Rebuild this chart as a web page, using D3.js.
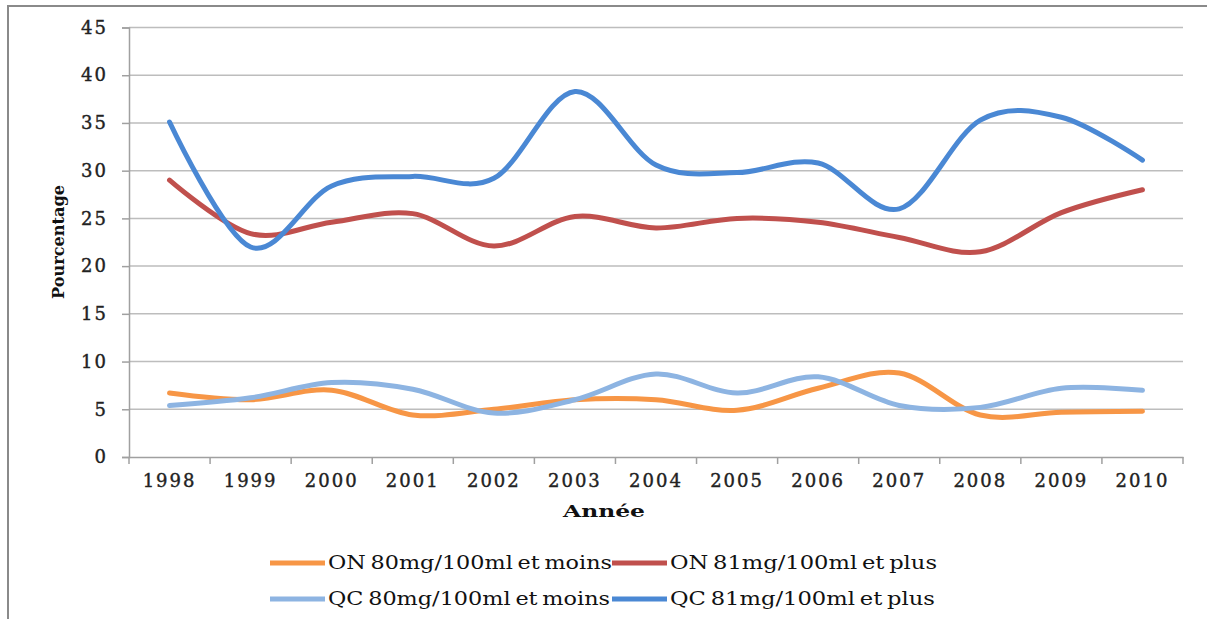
<!DOCTYPE html>
<html><head><meta charset="utf-8">
<script src="https://cdn.jsdelivr.net/npm/d3@7"></script>
<style>body{margin:0;background:#fff}svg{display:block}</style>
</head><body>
<script>
const years = ["1998","1999","2000","2001","2002","2003","2004","2005","2006","2007","2008","2009","2010"];
const onMoins = [6.7,6.0,7.0,4.4,5.0,6.0,6.0,4.9,7.2,8.8,4.4,4.7,4.8];
const onPlus  = [29.0,23.4,24.6,25.5,22.1,25.2,24.0,25.0,24.6,23.0,21.5,25.6,28.0];
const qcMoins = [5.4,6.2,7.8,7.1,4.6,6.0,8.7,6.7,8.4,5.4,5.2,7.2,7.0];
const qcPlus  = [35.1,22.0,28.4,29.4,29.2,38.3,30.6,29.8,30.8,26.0,35.3,35.6,31.1];
const yTicks = [0,5,10,15,20,25,30,35,40,45];
const seriesNames = ["ON 80mg/100ml et moins","ON 81mg/100ml et plus","QC 80mg/100ml et moins","QC 81mg/100ml et plus"];
const seriesColors = ["#F79646","#C0504D","#8DB4E2","#4A88D4"];
const seriesData = [onMoins,onPlus,qcMoins,qcPlus];

const W=1207,H=619;
const svg=d3.select("body").append("svg").attr("width",W).attr("height",H);
svg.append("rect").attr("width",W).attr("height",H).attr("fill","#fff");
// frame
svg.append("path").attr("d",`M8,${H} L8,6 L${W},6`).attr("fill","none").attr("stroke","#8a8a8a").attr("stroke-width",2);

const L=129,R=1183,T=27.5,B=457;
const xBand=d3.scaleBand().domain(years).range([L,R]);
const xP=d3.scalePoint().domain(years).range([L,R]).padding(0.5);
const y=d3.scaleLinear().domain([0,45]).range([B,T]);

// gridlines
svg.append("g").selectAll("line").data(yTicks.filter(d=>d>0)).join("line")
  .attr("x1",L).attr("x2",R).attr("y1",d=>y(d)).attr("y2",d=>y(d))
  .attr("stroke","#bdbdbd").attr("stroke-width",1.5);

// y axis
const ya=svg.append("g").attr("transform",`translate(${L},0)`)
  .call(d3.axisLeft(y).tickValues(yTicks).tickSize(7).tickPadding(14));
ya.select(".domain").attr("stroke","#a0a0a0").attr("stroke-width",1.5);
ya.selectAll(".tick line").attr("stroke","#a0a0a0").attr("stroke-width",1.5);
ya.selectAll("text").attr("font-family","DejaVu Serif").attr("font-size",18).attr("letter-spacing","2px")
  .attr("fill","#222").attr("stroke","#222").attr("stroke-width",0.4);

// x axis
const xa=svg.append("g").attr("transform",`translate(0,${B})`)
  .call(d3.axisBottom(xBand).tickSize(0).tickPadding(17));
xa.select(".domain").attr("stroke","#a0a0a0").attr("stroke-width",1.5);
xa.selectAll("text").attr("font-family","DejaVu Serif").attr("font-size",18).attr("letter-spacing","2px")
  .attr("fill","#222").attr("stroke","#222").attr("stroke-width",0.4);
const bounds=years.map(d=>xBand(d)).concat([R]);
svg.append("g").selectAll("line").data(bounds).join("line")
  .attr("x1",d=>d).attr("x2",d=>d).attr("y1",B).attr("y2",B+7)
  .attr("stroke","#a0a0a0").attr("stroke-width",1.5);

// titles
svg.append("text").attr("transform","translate(64,242) rotate(-90)").attr("text-anchor","middle")
  .attr("font-family","DejaVu Serif").attr("font-weight","bold").attr("font-size",16)
  .attr("textLength",114).attr("lengthAdjust","spacingAndGlyphs").attr("fill","#111").text("Pourcentage");
svg.append("text").attr("x",604).attr("y",517).attr("text-anchor","middle")
  .attr("font-family","DejaVu Serif").attr("font-weight","bold").attr("font-size",17)
  .attr("textLength",82).attr("lengthAdjust","spacingAndGlyphs").attr("fill","#111").text("Année");

// lines
const line=d3.line().x((d,i)=>xP(years[i])).y(d=>y(d)).curve(d3.curveCardinal.tension(0));
svg.append("g").selectAll("path").data(seriesData).join("path")
  .attr("d",d=>line(d)).attr("fill","none")
  .attr("stroke",(d,i)=>seriesColors[i]).attr("stroke-width",5).attr("stroke-linecap","round");

// legend
const legPos=[[270,563],[612,563],[270,599],[612,599]];
const legW=[284,267,282,265];
const lg=svg.append("g");
seriesNames.forEach((n,i)=>{
  const [lx,ly]=legPos[i];
  lg.append("line").attr("x1",lx).attr("x2",lx+55).attr("y1",ly).attr("y2",ly)
    .attr("stroke",seriesColors[i]).attr("stroke-width",5);
  lg.append("text").attr("x",lx+58).attr("y",ly+6).attr("font-family","DejaVu Serif").attr("font-size",19)
    .attr("word-spacing","-2px")
    .attr("textLength",legW[i]).attr("lengthAdjust","spacingAndGlyphs").attr("fill","#111").text(n);
});
</script>
</body></html>
